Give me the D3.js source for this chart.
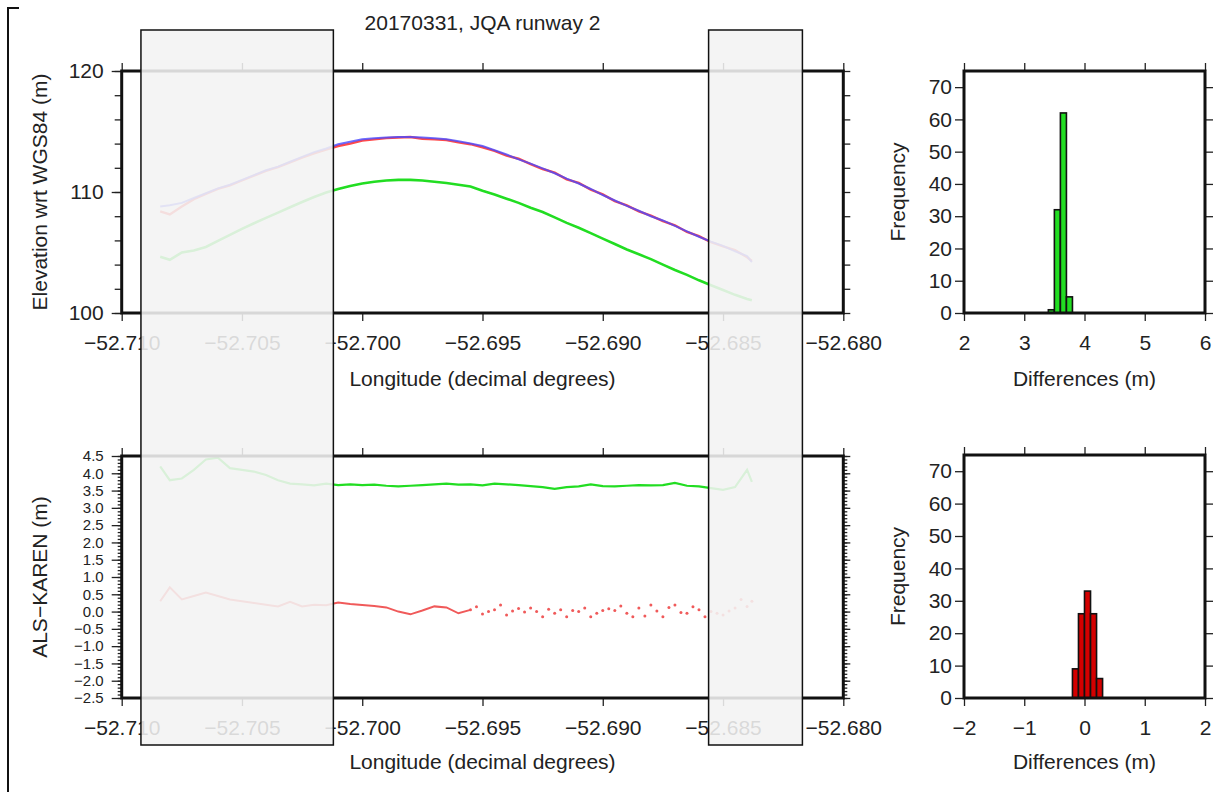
<!DOCTYPE html>
<html><head><meta charset="utf-8">
<script src="https://cdn.jsdelivr.net/npm/d3@7"></script>
<style>
body{margin:0;background:#fff}
svg text{font-family:"Liberation Sans",Arial,sans-serif;fill:#222}
</style>
</head><body>
<svg id="c" width="1231" height="810"></svg>
<script>
// ---------- data ----------
const lonTop = [-52.7084,-52.7080,-52.7075,-52.7070,-52.7065,-52.7060,-52.7055,-52.7050,-52.7045,-52.7040,
  -52.7035,-52.7030,-52.7025,-52.7020,-52.7015,-52.7010,-52.7005,-52.7000,-52.6995,-52.6990,
  -52.6985,-52.6980,-52.6975,-52.6970,-52.6965,-52.6960,-52.6955,-52.6950,-52.6945,-52.6940,
  -52.6935,-52.6930,-52.6925,-52.6920,-52.6915,-52.6910,-52.6905,-52.6900,-52.6895,-52.6890,
  -52.6885,-52.6880,-52.6875,-52.6870,-52.6865,-52.6860,-52.6855,-52.6850,-52.6845,-52.6840,-52.6838];
const redElev = [108.4,108.15,108.8,109.4,109.85,110.25,110.55,110.95,111.35,111.75,
  112.05,112.45,112.85,113.2,113.5,113.8,114.0,114.25,114.35,114.45,
  114.5,114.55,114.4,114.35,114.3,114.1,113.95,113.7,113.4,113.0,
  112.75,112.3,111.9,111.6,111.05,110.75,110.2,109.8,109.25,108.9,
  108.4,108.05,107.6,107.25,106.7,106.35,105.85,105.5,105.2,104.6,104.3];
const blueElev = [108.8,108.9,109.1,109.5,109.9,110.3,110.6,111.0,111.4,111.8,
  112.1,112.5,112.9,113.3,113.6,113.95,114.15,114.35,114.45,114.5,
  114.55,114.55,114.5,114.45,114.35,114.2,114.0,113.8,113.45,113.1,
  112.7,112.35,111.95,111.55,111.1,110.7,110.25,109.75,109.3,108.85,
  108.45,108.0,107.65,107.2,106.75,106.3,105.9,105.55,105.1,104.7,104.2];
const greenElev = [104.65,104.4,105.0,105.17,105.46,105.96,106.45,106.95,107.42,107.86,
  108.3,108.74,109.17,109.58,109.95,110.25,110.5,110.7,110.85,110.95,
  111.0,111.0,110.95,110.85,110.75,110.6,110.45,110.1,109.8,109.45,
  109.1,108.7,108.35,107.9,107.45,107.05,106.6,106.15,105.7,105.25,
  104.85,104.45,104.0,103.55,103.15,102.7,102.3,101.9,101.5,101.15,101.05];
const greenDiff = [4.2,3.8,3.85,4.1,4.4,4.45,4.15,4.1,4.05,3.95,
  3.8,3.7,3.68,3.65,3.7,3.66,3.68,3.66,3.67,3.64,
  3.62,3.64,3.66,3.68,3.7,3.67,3.68,3.65,3.7,3.68,
  3.66,3.63,3.6,3.55,3.6,3.62,3.68,3.63,3.62,3.64,
  3.66,3.65,3.66,3.72,3.64,3.62,3.57,3.52,3.6,4.1,3.75];
// red differences drawn as a line (first part of lonTop)
const redDiff = [0.3,0.7,0.35,0.45,0.55,0.45,0.35,0.3,0.25,0.2,
  0.15,0.28,0.15,0.2,0.18,0.26,0.22,0.19,0.16,0.12,
  0.0,-0.08,0.03,0.15,0.12,-0.05,0.05];
// red differences drawn as points (second part)
const lonDots = [-52.69550,-52.69525,-52.69500,-52.69475,-52.69450,-52.69425,-52.69400,-52.69375,
  -52.69350,-52.69325,-52.69300,-52.69275,-52.69250,-52.69225,-52.69200,-52.69175,
  -52.69150,-52.69125,-52.69100,-52.69075,-52.69050,-52.69025,-52.69000,-52.68975,
  -52.68950,-52.68925,-52.68900,-52.68875,-52.68850,-52.68825,-52.68800,-52.68775,
  -52.68750,-52.68725,-52.68700,-52.68675,-52.68650,-52.68625,-52.68600,-52.68575,
  -52.68550,-52.68525,-52.68500,-52.68475,-52.68450,-52.68425,-52.68400,-52.68380];
const redDots = [0.05,0.14,-0.07,0.0,0.05,0.19,-0.1,0.02,
  0.09,-0.01,0.1,0.0,-0.15,0.07,-0.05,0.05,
  -0.15,0.03,0.0,0.1,-0.15,-0.05,0.03,0.08,
  0.03,0.16,-0.05,-0.15,0.1,-0.13,0.19,0.02,
  -0.15,0.12,0.19,-0.03,-0.05,0.14,0.05,-0.15,
  0.0,-0.05,-0.1,0.02,0.1,0.35,0.15,0.3];
const histTopEdges = [3.4,3.5,3.6,3.7,3.8];
const histTopCounts = [1,32,62,5];
const histBotEdges = [-0.2,-0.1,0.0,0.1,0.2,0.3];
const histBotCounts = [9,26,33,26,6];
const lonTicks = [-52.710,-52.705,-52.700,-52.695,-52.690,-52.685,-52.680];
const elevTicks = [100,110,120];
const diffTicks = [-2.5,-2.0,-1.5,-1.0,-0.5,0.0,0.5,1.0,1.5,2.0,2.5,3.0,3.5,4.0,4.5];
const freqTicks = [0,10,20,30,40,50,60,70];
const histTopTicks = [2,3,4,5,6];
const histBotTicks = [-2,-1,0,1,2];
const maskZones = [[-52.7092,-52.7012],[-52.6856,-52.6817]];
const titleText = "20170331, JQA runway 2";

// ---------- layout ----------
const svg = d3.select("#c");
const FS = 21, FF = '"Liberation Sans",Arial,sans-serif';
const X0 = 121.7, X1 = 843.3;
const T0 = 71, T1 = 313, B0 = 456, B1 = 698;
const HX0 = 964, HX1 = 1205;

const xLon = d3.scaleLinear().domain([-52.710,-52.680]).range([X0,X1]);
const yElev = d3.scaleLinear().domain([100,120]).range([T1,T0]);
const yDiff = d3.scaleLinear().domain([-2.5,4.5]).range([B1,B0]);
const xHt = d3.scaleLinear().domain([2,6]).range([HX0,HX1]);
const yHt = d3.scaleLinear().domain([0,75]).range([T1,T0]);
const xHb = d3.scaleLinear().domain([-2,2]).range([HX0,HX1]);
const yHb = d3.scaleLinear().domain([0,75]).range([B1,455]);

function styleAxis(g, fs){
  g.attr("font-size", fs||FS).attr("font-family", FF);
  g.select(".domain").remove();
  g.selectAll("line").attr("stroke","#222").attr("stroke-width",1.3);
  g.selectAll("text").attr("fill","#222");
}
function ax(gen, tx, ty, fs){
  const g = svg.append("g").attr("transform",`translate(${tx},${ty})`).call(gen);
  styleAxis(g, fs);
  return g;
}

// frame corner
svg.append("path").attr("d","M19,8 H8 V792").attr("fill","none").attr("stroke","#111").attr("stroke-width",2);

// title
svg.append("text").attr("x",(X0+X1)/2).attr("y",29.5).attr("text-anchor","middle")
  .attr("font-size",FS).text(titleText);

// ---------- top line plot ----------
const topPts = lonTop.map((l,i)=>({l,r:redElev[i],b:blueElev[i],g:greenElev[i]}));
const lineOf = (ys, key) => d3.line().x(d=>xLon(d.l)).y(d=>ys(d[key]));
svg.append("clipPath").attr("id","ct").append("rect")
  .attr("x",X0).attr("y",T0).attr("width",X1-X0).attr("height",T1-T0);
const gTop = svg.append("g").attr("clip-path","url(#ct)");
gTop.append("path").datum(topPts).attr("d",lineOf(yElev,"g")).attr("fill","none")
  .attr("stroke","#22dd22").attr("stroke-width",2.6);
gTop.append("path").datum(topPts).attr("d",lineOf(yElev,"r")).attr("fill","none")
  .attr("stroke","#ff4a4a").attr("stroke-width",2.4);
gTop.append("path").datum(topPts).attr("d",lineOf(yElev,"b")).attr("fill","none")
  .attr("stroke","#4848ff").attr("stroke-opacity",0.8).attr("stroke-width",2.0);

// axes top plot
ax(d3.axisBottom(xLon).tickValues(lonTicks).tickFormat(d3.format(".3f")).tickSize(8).tickPadding(14), 0, T1);
ax(d3.axisTop(xLon).tickValues(lonTicks).tickFormat("").tickSize(8), 0, T0);
ax(d3.axisLeft(yElev).tickValues(elevTicks).tickFormat(d3.format("d")).tickSize(10).tickPadding(8), X0, 0);
ax(d3.axisLeft(yElev).tickValues(d3.range(100,121,2)).tickFormat("").tickSize(7), X0, 0);
ax(d3.axisRight(yElev).tickValues(d3.range(100,121,2)).tickFormat("").tickSize(7), X1, 0);
svg.append("rect").attr("x",X0).attr("y",T0).attr("width",X1-X0).attr("height",T1-T0)
  .attr("fill","none").attr("stroke","#111").attr("stroke-width",3);
svg.append("text").attr("transform",`translate(47,${(T0+T1)/2}) rotate(-90)`).attr("text-anchor","middle")
  .attr("font-size",FS).text("Elevation wrt WGS84 (m)");
svg.append("text").attr("x",(X0+X1)/2).attr("y",385.5).attr("text-anchor","middle")
  .attr("font-size",FS).text("Longitude (decimal degrees)");

// ---------- bottom difference plot ----------
svg.append("clipPath").attr("id","cb").append("rect")
  .attr("x",X0).attr("y",B0).attr("width",X1-X0).attr("height",B1-B0);
const gBot = svg.append("g").attr("clip-path","url(#cb)");
const gPts = lonTop.map((l,i)=>({l,v:greenDiff[i]}));
const rPts = redDiff.map((v,i)=>({l:lonTop[i],v}));
const dPts = lonDots.map((l,i)=>({l,v:redDots[i]}));
gBot.append("path").datum(gPts).attr("d",lineOf(yDiff,"v")).attr("fill","none")
  .attr("stroke","#22dd22").attr("stroke-width",2.2);
gBot.append("path").datum(rPts).attr("d",lineOf(yDiff,"v")).attr("fill","none")
  .attr("stroke","#f05a5a").attr("stroke-width",2.0);
gBot.selectAll("circle.rd").data(dPts).join("circle").attr("class","rd")
  .attr("cx",d=>xLon(d.l)).attr("cy",d=>yDiff(d.v)).attr("r",1.5).attr("fill","#f05a5a");

ax(d3.axisBottom(xLon).tickValues(lonTicks).tickFormat(d3.format(".3f")).tickSize(8).tickPadding(14), 0, B1);
ax(d3.axisTop(xLon).tickValues(lonTicks).tickFormat("").tickSize(8), 0, B0);
ax(d3.axisLeft(yDiff).tickValues(diffTicks).tickFormat(d3.format(".1f")).tickSize(10).tickPadding(8), X0, 0, 15);
ax(d3.axisLeft(yDiff).tickValues(d3.range(-25,46,1).map(v=>v/10)).tickFormat("").tickSize(4), X0, 0);
ax(d3.axisRight(yDiff).tickValues(d3.range(-25,46,1).map(v=>v/10)).tickFormat("").tickSize(4), X1, 0);
ax(d3.axisRight(yDiff).tickValues(diffTicks).tickFormat("").tickSize(7), X1, 0);
svg.append("rect").attr("x",X0).attr("y",B0).attr("width",X1-X0).attr("height",B1-B0)
  .attr("fill","none").attr("stroke","#111").attr("stroke-width",3);
svg.append("text").attr("transform",`translate(47,${(B0+B1)/2}) rotate(-90)`).attr("text-anchor","middle")
  .attr("font-size",FS).text("ALS\u2212KAREN (m)");
svg.append("text").attr("x",(X0+X1)/2).attr("y",768.5).attr("text-anchor","middle")
  .attr("font-size",FS).text("Longitude (decimal degrees)");

// ---------- histograms ----------
function hist(edges, counts, xs, ys, fill, xt, y0, y1, labY){
  const bars = counts.map((c,i)=>({a:edges[i],b:edges[i+1],c}));
  svg.append("g").selectAll("rect").data(bars).join("rect")
    .attr("x",d=>xs(d.a)).attr("width",d=>xs(d.b)-xs(d.a))
    .attr("y",d=>ys(d.c)).attr("height",d=>ys(0)-ys(d.c))
    .attr("fill",fill).attr("stroke","#111").attr("stroke-width",1.6);
  ax(d3.axisBottom(xs).tickValues(xt).tickFormat(d3.format("d")).tickSize(8).tickPadding(14), 0, y1);
  ax(d3.axisTop(xs).tickValues(xt).tickFormat("").tickSize(8), 0, y0);
  ax(d3.axisLeft(ys).tickValues(freqTicks).tickFormat(d3.format("d")).tickSize(9).tickPadding(3), HX0, 0);
  ax(d3.axisRight(ys).tickValues(freqTicks).tickFormat("").tickSize(8), HX1, 0);
  svg.append("rect").attr("x",HX0).attr("y",y0).attr("width",HX1-HX0).attr("height",y1-y0)
    .attr("fill","none").attr("stroke","#111").attr("stroke-width",3);
  svg.append("text").attr("transform",`translate(905,${(y0+y1)/2}) rotate(-90)`).attr("text-anchor","middle")
    .attr("font-size",FS).text("Frequency");
  svg.append("text").attr("x",(HX0+HX1)/2).attr("y",labY).attr("text-anchor","middle")
    .attr("font-size",FS).text("Differences (m)");
}
hist(histTopEdges, histTopCounts, xHt, yHt, "#22dd22", histTopTicks, T0, T1, 385.5);
hist(histBotEdges, histBotCounts, xHb, yHb, "#d40000", histBotTicks, 455, B1, 768.5);

// ---------- shaded exclusion zones ----------
svg.append("g").selectAll("rect").data(maskZones).join("rect")
  .attr("x",d=>xLon(d[0])).attr("width",d=>xLon(d[1])-xLon(d[0]))
  .attr("y",30).attr("height",715)
  .attr("fill","#f2f2f2").attr("fill-opacity",0.88)
  .attr("stroke","#111").attr("stroke-width",1.5);
</script>
</body></html>
